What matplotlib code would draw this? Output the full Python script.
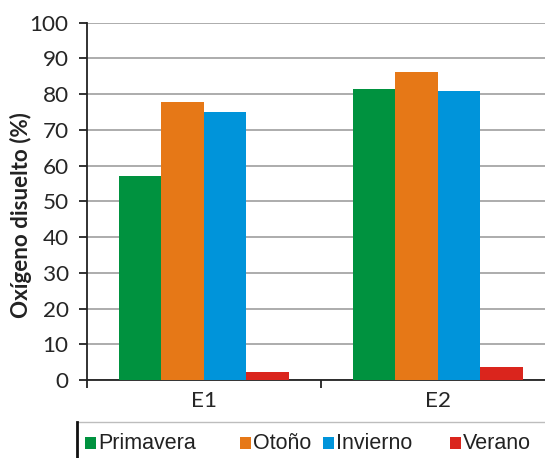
import matplotlib
matplotlib.use("Agg")
import matplotlib.pyplot as plt
import numpy as np
from matplotlib.lines import Line2D
from matplotlib.patches import Rectangle

# Dissolved oxygen (%) by station and season
stations = ["E1", "E2"]
seasons = ["Primavera", "Otoño", "Invierno", "Verano"]
primavera = [57.2, 81.3]
otono = [77.9, 86.3]
invierno = [75.0, 80.9]
verano = [2.4, 3.7]
colors = ["#00923F", "#E67817", "#0094DA", "#DA251D"]

values = [primavera, otono, invierno, verano]

fig = plt.figure(figsize=(5.45, 4.58), dpi=100)
ax = fig.add_axes([0.1596, 0.170, 0.8587, 0.7806])

x = np.arange(len(stations))
width = 0.1816
offsets = (np.arange(len(seasons)) - 1.5) * width
for vals, off, col, name in zip(values, offsets, colors, seasons):
    ax.bar(x + off, vals, width=width, color=col, label=name, zorder=3)

ax.set_xlim(-0.5, 1.5)
ax.set_ylim(0, 100)
ax.set_yticks(np.arange(0, 101, 10))
ax.yaxis.grid(True, color="#a6a6a6", linewidth=1.3, zorder=0)

tick_font = dict(family="Lato", size=16.2, color="#262626")
ax.set_yticklabels([str(v) for v in range(0, 101, 10)], **tick_font)
ax.set_xticks(x)
ax.set_xticklabels(stations, **tick_font)
ax.set_xticks([-0.5, 0.5, 1.5], minor=True)
ax.tick_params(axis="x", which="major", length=0, pad=8)
ax.tick_params(axis="x", which="minor", length=6, width=1.3, color="#222222")
ax.tick_params(axis="y", length=6, width=1.3, color="#222222", pad=7.2)

for side in ["top", "right"]:
    ax.spines[side].set_visible(False)
for side in ["left", "bottom"]:
    ax.spines[side].set_linewidth(1.3)
    ax.spines[side].set_color("#222222")

ax.set_ylabel("Oxígeno disuelto (%)", family="Lato", fontsize=16.1,
              fontweight="bold", color="#222222")
ax.yaxis.set_label_coords(-0.117, 0.462)

# legend strip along the bottom edge
fig.add_artist(Line2D([77 / 545, 1.0], [1 - 422 / 458] * 2, color="#bdbdbd",
                      linewidth=1.0, transform=fig.transFigure))
fig.add_artist(Line2D([77 / 545] * 2, [0.0, 1 - 422 / 458], color="#111111",
                      linewidth=2.0, transform=fig.transFigure))
leg_x = [85, 240, 323, 450]
for px, col, name in zip(leg_x, colors, seasons):
    fig.add_artist(Rectangle((px / 545, 1 - 449 / 458), 11 / 545, 12 / 458,
                             facecolor=col, edgecolor="none",
                             transform=fig.transFigure))
    fig.text((px + 13) / 545, 1 - 449 / 458, name, family="Liberation Sans",
             fontsize=15.5, color="#222222", va="baseline", ha="left")

fig.savefig("out.png", dpi=100)
